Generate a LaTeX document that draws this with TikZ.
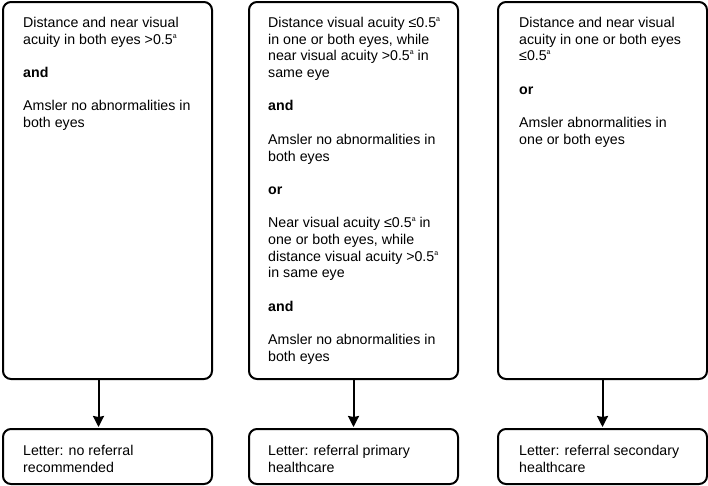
\documentclass[tikz,border=0pt]{standalone}
\usepackage{fontspec}
\setmainfont{Liberation Sans}
\usetikzlibrary{arrows.meta}
\newcommand\supa{\raisebox{0.42em}{\fontsize{7}{7}\selectfont a}}
\begin{document}
\begin{tikzpicture}[x=1pt,y=-1pt,
  box/.style={draw, line width=2pt, rounded corners=8pt, anchor=north west, inner sep=0pt, minimum width=209pt},
  tall/.style={box, minimum height=377pt},
  letter/.style={box, minimum height=55pt},
  txt/.style={anchor=north west, inner sep=0pt, align=left, font=\fontsize{14.2}{16.7}\selectfont},
  arr/.style={-{Stealth[length=11pt,width=11pt,inset=1pt]}, line width=2pt}]
\useasboundingbox (0,0) rectangle (708,485);
% tall boxes
\node[tall] (b1) at (2,1) {};
\node[tall] (b2) at (248,1) {};
\node[tall] (b3) at (497,1) {};
% letter boxes
\node[letter] (l1) at (2,428) {};
\node[letter] (l2) at (248,428) {};
\node[letter] (l3) at (497,428) {};
% texts
\node[txt] (t1) at (23,17) {Distance and near visual\\acuity in both eyes >0.5\supa\\[16.7pt]
\textbf{and}\\[16.7pt]
Amsler no abnormalities in\\both eyes};
\node[txt] (t2) at (268,17) {Distance visual acuity ≤0.5\supa\\in one or both eyes, while\\near visual acuity >0.5\supa{} in\\same eye\\[16.7pt]
\textbf{and}\\[16.7pt]
Amsler no abnormalities in\\both eyes\\[16.7pt]
\textbf{or}\\[16.7pt]
Near visual acuity ≤0.5\supa{} in\\one or both eyes, while\\distance visual acuity >0.5\supa\\in same eye\\[16.7pt]
\textbf{and}\\[16.7pt]
Amsler no abnormalities in\\both eyes};
\node[txt] (t3) at (519,17) {Distance and near visual\\acuity in one or both eyes\\≤0.5\supa\\[16.7pt]
\textbf{or}\\[16.7pt]
Amsler abnormalities in\\one or both eyes};
\node[txt] (u1) at (23,445) {Letter: no referral\\recommended};
\node[txt] (u2) at (268,445) {Letter: referral primary\\healthcare};
\node[txt] (u3) at (519,445) {Letter: referral secondary\\healthcare};
% arrows
\draw[arr] ([xshift=-9pt]b1.south) -- ([xshift=-9pt,yshift=1pt]l1.north);
\draw[arr] (b2.south) -- ([yshift=1pt]l2.north);
\draw[arr] (b3.south) -- ([yshift=1pt]l3.north);
\end{tikzpicture}
\end{document}
